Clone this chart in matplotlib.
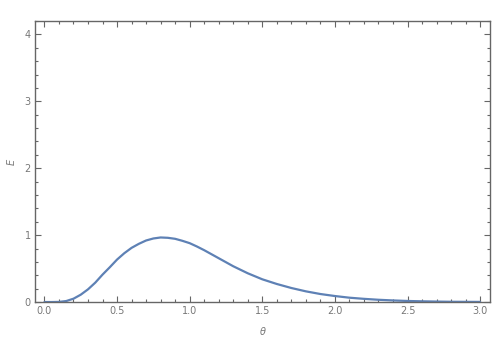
import matplotlib
matplotlib.use("Agg")
import matplotlib.pyplot as plt
from matplotlib.ticker import MultipleLocator, FormatStrFormatter

theta = [0.0, 0.05, 0.1, 0.15, 0.2, 0.25, 0.3, 0.35, 0.4, 0.45, 0.5, 0.55, 0.6, 0.65,
         0.7, 0.75, 0.8, 0.85, 0.9, 0.95, 1.0, 1.05, 1.1, 1.15, 1.2, 1.3, 1.4, 1.5, 1.6, 1.7,
         1.8, 1.9, 2.0, 2.1, 2.2, 2.3, 2.4, 2.5, 2.6, 2.7, 2.8, 3.0]
energy = [0.0, 0.0, 0.002, 0.015, 0.05, 0.11, 0.19, 0.29, 0.41, 0.52, 0.635, 0.73, 0.81, 0.87,
          0.92, 0.95, 0.965, 0.96, 0.945, 0.915, 0.88, 0.83, 0.775, 0.715, 0.655, 0.535, 0.43, 0.34, 0.27, 0.21,
          0.16, 0.12, 0.09, 0.065, 0.048, 0.034, 0.024, 0.016, 0.011, 0.007, 0.004, 0.002]

fig = plt.figure(figsize=(5, 3.5), dpi=100)
ax = fig.add_axes([0.07, 0.137, 0.91, 0.803])
ax.plot(theta, energy, color="#5E81B5", lw=1.6, solid_capstyle="round", solid_joinstyle="round")

ax.set_xlim(-0.065, 3.068)
ax.set_ylim(0, 4.2)
ax.xaxis.set_major_locator(MultipleLocator(0.5))
ax.xaxis.set_minor_locator(MultipleLocator(0.1))
ax.yaxis.set_major_locator(MultipleLocator(1))
ax.yaxis.set_minor_locator(MultipleLocator(0.2))
ax.xaxis.set_major_formatter(FormatStrFormatter("%.1f"))
ax.yaxis.set_major_formatter(FormatStrFormatter("%d"))

frame = "#666666"
for s in ax.spines.values():
    s.set_color(frame)
    s.set_linewidth(1.0)
ax.tick_params(which="both", direction="in", top=True, right=True, color=frame,
               labelcolor="#777777", labelsize=7, width=0.8)
ax.tick_params(which="major", length=4, pad=3)
ax.tick_params(which="minor", length=2)

ax.set_xlabel(r"$\theta$", fontsize=7, color="#777777", labelpad=6)
ax.set_ylabel("E", fontsize=7, color="#777777", style="italic", labelpad=6)

fig.savefig("out.png", dpi=100)
